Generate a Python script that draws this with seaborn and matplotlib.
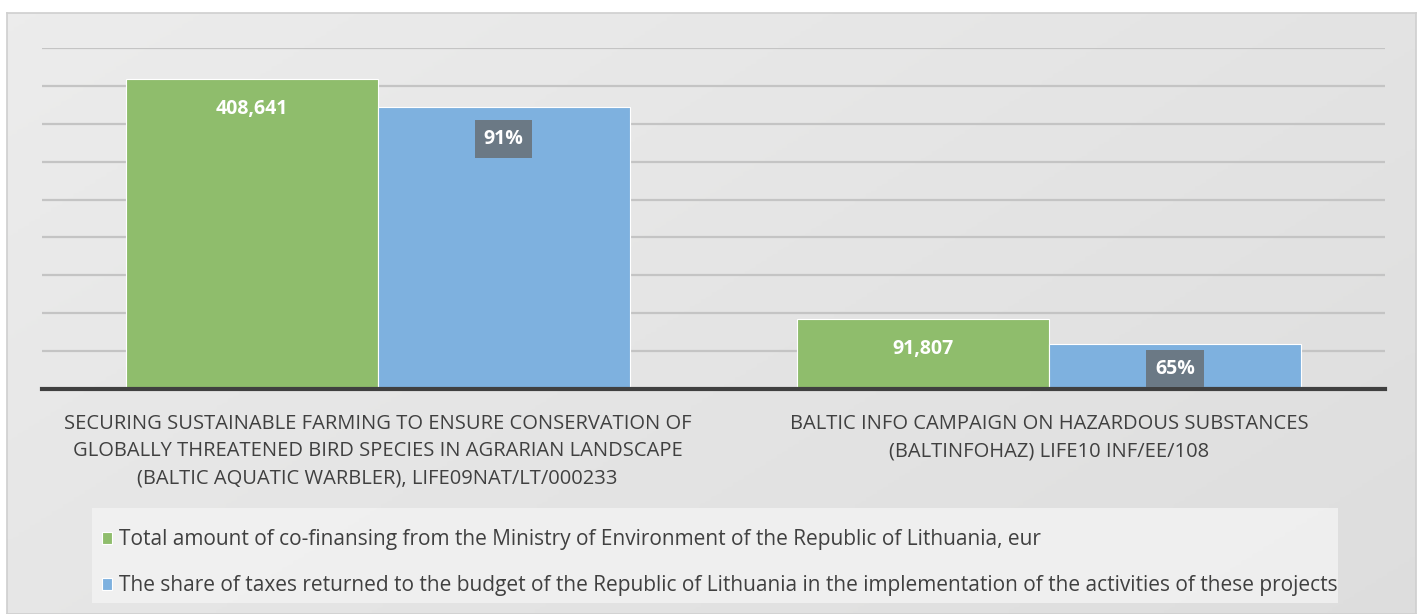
import numpy as np
import pandas as pd
import seaborn as sns
import matplotlib.pyplot as plt
from matplotlib.patches import Rectangle

# Data

projects = ['SECURING SUSTAINABLE FARMING TO ENSURE CONSERVATION OF\nGLOBALLY THREATENED BIRD SPECIES IN AGRARIAN LANDSCAPE\n(BALTIC AQUATIC WARBLER), LIFE09NAT/LT/000233',
            'BALTIC INFO CAMPAIGN ON HAZARDOUS SUBSTANCES\n(BALTINFOHAZ) LIFE10 INF/EE/108']
cofinancing = [408641, 91807]
tax_share = [0.91, 0.65]
series = ['Total amount of co-finansing from the Ministry of Environment of the Republic of Lithuania, eur',
          'The share of taxes returned to the budget of the Republic of Lithuania in the implementation of the activities of these projects']

# Build the long table (blue bar height = share of the co-financing)

rows = []
for p, c, s in zip(projects, cofinancing, tax_share):
    rows.append([p, series[0], c])
    rows.append([p, series[1], c * s])
df = pd.DataFrame(rows, columns=['project', 'series', 'value'])

sns.set_theme(style='white')
plt.rcParams['font.family'] = ['Open Sans', 'DejaVu Sans']

W, H = 1423, 614
fig = plt.figure(figsize=(W / 100, H / 100), dpi=100)

# Background panel with soft gradient
bg = fig.add_axes([0.005, 0.0, 0.99, 0.979])
grad = np.linspace(0, 1, 256)
gx, gy = np.meshgrid(grad, grad)
bg.imshow(0.6 * gx + 0.4 * gy, cmap=sns.light_palette('#dcdcdc', as_cmap=True),
          aspect='auto', extent=[0, 1, 0, 1], origin='upper', vmin=-0.3, vmax=1.1)
bg.set_xticks([])
bg.set_yticks([])
for s in bg.spines.values():
    s.set_color('#d0d0d0')

# Legend panel (drawn on the background axes, under the legend)
bg.add_patch(Rectangle((92 / W, 1 - 603 / H), (1338 - 92) / W, 95 / H,
                       transform=fig.transFigure, facecolor='#f2f2f2',
                       edgecolor='none', alpha=0.85, zorder=5))

ax = fig.add_axes([0.0295, 0.3664, 0.9438, 0.5554])
ax.patch.set_alpha(0)
sns.barplot(data=df, x='project', y='value', hue='series', ax=ax,
            palette=['#8fbd6c', '#7eb1df'], width=0.75, saturation=1,
            edgecolor='white', linewidth=0.8, legend=True)

ax.set_ylim(0, 450000)
ax.set_yticks(np.arange(50000, 450001, 50000))
ax.yaxis.grid(True, color='#c4c4c4', linewidth=1.6)
ax.set_axisbelow(True)
ax.tick_params(axis='y', left=False, labelleft=False)
ax.tick_params(axis='x', bottom=False, pad=11.8, labelsize=14.5, labelcolor='#404040')
for lbl in ax.get_xticklabels():
    lbl.set_linespacing(1.5)
ax.set_xlabel('')
ax.set_ylabel('')
for side in ['top', 'right', 'left']:
    ax.spines[side].set_visible(False)
ax.spines['bottom'].set_color('#404040')
ax.spines['bottom'].set_linewidth(3)

# Value labels
green_bars = ax.containers[0]
blue_bars = ax.containers[1]
for bar, v in zip(green_bars, cofinancing):
    ax.text(bar.get_x() + bar.get_width() / 2, bar.get_height() - 26000, f'{v:,}',
            ha='center', va='top', color='white', fontsize=14, fontweight='bold')
for bar, s in zip(blue_bars, tax_share):
    y = bar.get_height() - 42000 if s > 0.8 else bar.get_height() / 2 - 3000
    ax.text(bar.get_x() + bar.get_width() / 2, y, f'{s:.0%}',
            ha='center', va='center', color='white', fontsize=14, fontweight='bold',
            bbox=dict(boxstyle='square,pad=0.45', facecolor='#6b7985', edgecolor='none'))

leg = ax.legend(loc='upper left', bbox_to_anchor=(102 / W, 1 - 529 / H), bbox_transform=fig.transFigure,
                frameon=False, fontsize=15, handlelength=0.5, handleheight=0.5, handletextpad=0.3,
                labelspacing=1.2, borderpad=0, borderaxespad=0, title=None)
for t in leg.get_texts():
    t.set_color('#404040')

fig.savefig('out.png', dpi=100)
